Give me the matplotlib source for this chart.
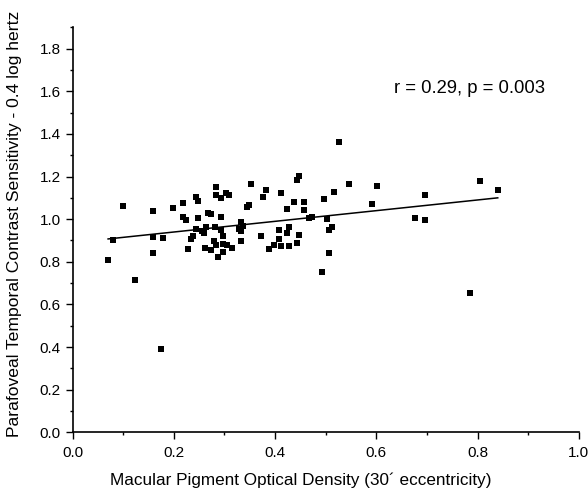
import numpy as np
import matplotlib
matplotlib.use('Agg')
import matplotlib.pyplot as plt
from matplotlib.ticker import MultipleLocator

plt.rcParams['font.family'] = ['Liberation Sans', 'DejaVu Sans']

# macular pigment optical density (30' eccentricity)
mpod = [0.099, 0.159, 0.199, 0.218, 0.243, 0.248, 0.283, 0.283, 0.294, 0.303,
        0.309, 0.218, 0.224, 0.248, 0.268, 0.273, 0.294, 0.244, 0.263, 0.255,
        0.259, 0.281, 0.294, 0.298, 0.238, 0.233, 0.080, 0.159, 0.179, 0.228,
        0.279, 0.283, 0.262, 0.273, 0.298, 0.304, 0.314, 0.298, 0.288, 0.159,
        0.070, 0.124, 0.174, 0.527, 0.447, 0.443, 0.353, 0.546, 0.601, 0.383,
        0.412, 0.517, 0.377, 0.497, 0.437, 0.457, 0.344, 0.348, 0.591, 0.423,
        0.457, 0.467, 0.472, 0.502, 0.332, 0.337, 0.329, 0.332, 0.512, 0.507,
        0.408, 0.427, 0.423, 0.448, 0.373, 0.408, 0.333, 0.443, 0.398, 0.412,
        0.428, 0.388, 0.507, 0.492, 0.805, 0.840, 0.696, 0.676, 0.696, 0.785]

# parafoveal temporal contrast sensitivity (0.4 log Hz)
tcs = [1.060, 1.039, 1.050, 1.078, 1.105, 1.084, 1.149, 1.111, 1.098, 1.122,
       1.111, 1.011, 0.995, 1.005, 1.028, 1.023, 1.008, 0.956, 0.961, 0.944,
       0.933, 0.961, 0.947, 0.919, 0.923, 0.906, 0.902, 0.918, 0.912, 0.858,
       0.897, 0.878, 0.863, 0.856, 0.881, 0.878, 0.865, 0.845, 0.823, 0.841,
       0.806, 0.713, 0.389, 1.360, 1.202, 1.184, 1.164, 1.166, 1.155, 1.137,
       1.123, 1.125, 1.102, 1.094, 1.081, 1.080, 1.058, 1.064, 1.069, 1.047,
       1.045, 1.003, 1.009, 0.999, 0.987, 0.970, 0.956, 0.944, 0.962, 0.948,
       0.947, 0.964, 0.936, 0.926, 0.922, 0.908, 0.898, 0.889, 0.877, 0.873,
       0.873, 0.861, 0.841, 0.752, 1.177, 1.137, 1.111, 1.003, 0.994, 0.655]

stats_label = 'r = 0.29, p = 0.003'

x = np.array(mpod)
y = np.array(tcs)

fig = plt.figure(figsize=(5.88, 4.99), dpi=100)
ax = fig.add_axes([0.1236, 0.1337, 0.8606, 0.8116])

ax.scatter(x, y, marker='s', s=14, color='black', linewidths=0, zorder=3)

# least squares fit over the data range
slope, icpt = np.polyfit(x, y, 1)
xf = np.array([x.min(), x.max()])
ax.plot(xf, icpt + slope * xf, color='black', lw=1.1)

ax.text(0.635, 1.615, stats_label, fontsize=13.3, ha='left', va='center')

ax.set_xlim(0, 1.0)
ax.set_ylim(0, 1.9)
ax.xaxis.set_major_locator(MultipleLocator(0.2))
ax.xaxis.set_minor_locator(MultipleLocator(0.1))
ax.yaxis.set_major_locator(MultipleLocator(0.2))
ax.yaxis.set_minor_locator(MultipleLocator(0.1))
ax.xaxis.set_major_formatter(plt.FormatStrFormatter('%.1f'))
ax.yaxis.set_major_formatter(plt.FormatStrFormatter('%.1f'))

for side in ('top', 'right'):
    ax.spines[side].set_visible(False)
for side in ('left', 'bottom'):
    ax.spines[side].set_linewidth(1.2)

ax.tick_params(which='major', direction='out', length=5, width=1.0, labelsize=11)
ax.tick_params(axis='x', which='major', pad=5)
ax.tick_params(which='minor', direction='out', length=2.5, width=1.0)

ax.set_xlabel("Macular Pigment Optical Density (30\u00b4 eccentricity)", fontsize=12.3)
ax.set_ylabel('Parafoveal Temporal Contrast Sensitivity - 0.4 log hertz', fontsize=12.6)
ax.xaxis.set_label_coords(0.451, -0.1)
ax.yaxis.set_label_coords(-0.101, 0.515)

fig.savefig('out.png', dpi=100)
